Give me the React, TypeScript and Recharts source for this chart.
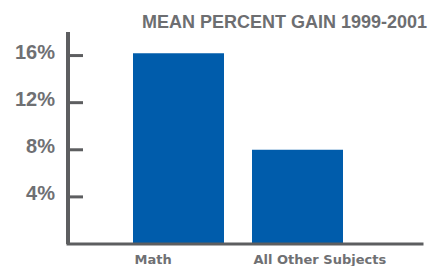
// Gain moyen en pourcentage, 1999-2001 : barres verticales, axes gris épais.
import { Bar, BarChart, XAxis, YAxis } from "recharts";

const categories = ["Math", "All Other Subjects"];
const gains = [16.2, 8.0];
const yTicks = [4, 8, 12, 16];
const title = "MEAN PERCENT GAIN 1999-2001";

const data = categories.map((name, i) => ({ name, gain: gains[i] }));

const BAR = "#005cab";
const AXIS = "#5d5e60";
const TEXT = "#6f7073";
const BAR_SIZE = 91;

function YTick({ x, y, payload }: { x: number; y: number; payload: { value: number } }) {
  return (
    <g>
      <text x={x} y={y + 3.5} textAnchor="end" fill={TEXT} fontSize={20} fontWeight={700} fontFamily="'Liberation Sans', Arial, sans-serif">
        {payload.value}%
      </text>
      <line x1={x + 15} x2={x + 28} y1={y} y2={y} stroke={AXIS} strokeWidth={3} />
    </g>
  );
}

function XTick({ x, y, payload }: { x: number; y: number; payload: { value: string } }) {
  return (
    <text x={x - BAR_SIZE / 2 + 1.5} y={y} dy={12} textAnchor="start" fill={TEXT} fontSize={13} fontWeight={700} fontFamily="'DejaVu Sans', sans-serif">
      {payload.value}
    </text>
  );
}

export default function App() {
  return (
    <div style={{ position: "absolute", left: 0, top: 0, width: 432, height: 266, background: "#fff" }}>
      <div
        style={{
          position: "absolute",
          right: 5,
          top: 13,
          fontFamily: "'Liberation Sans', Arial, sans-serif",
          fontWeight: 700,
          fontSize: 18,
          lineHeight: "18px",
          color: "#6d6e71",
          whiteSpace: "nowrap",
        }}
      >
        {title}
      </div>
      <BarChart width={432} height={266} data={data} margin={{ top: 32, right: 10, bottom: 0, left: 0 }}>
        <XAxis
          dataKey="name"
          height={22}
          padding={{ left: 51, right: 65 }}
          tickLine={false}
          axisLine={{ stroke: AXIS, strokeWidth: 3, strokeLinecap: "square" }}
          tick={XTick}
          interval={0}
        />
        <YAxis
          width={68}
          domain={[0, 18]}
          ticks={yTicks}
          tickLine={false}
          tickSize={0}
          tickMargin={13}
          axisLine={{ stroke: AXIS, strokeWidth: 4 }}
          tick={YTick}
        />
        <Bar dataKey="gain" fill={BAR} barSize={BAR_SIZE} isAnimationActive={false} />
      </BarChart>
    </div>
  );
}
